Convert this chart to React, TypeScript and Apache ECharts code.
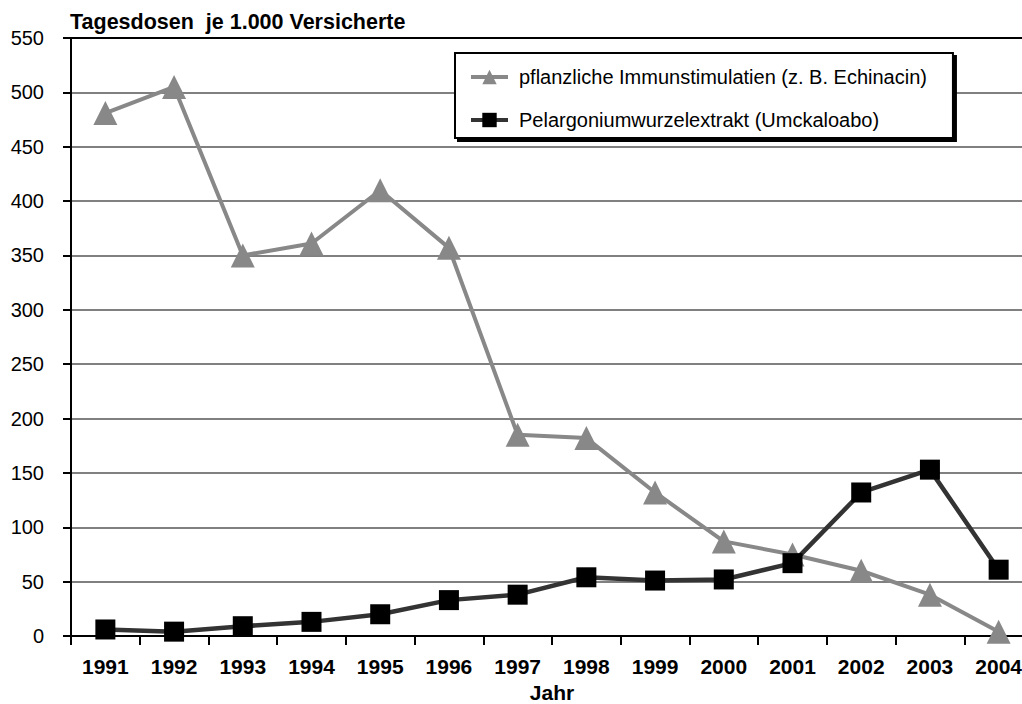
import React, { useEffect, useRef } from "react";
import * as echarts from "echarts";

const years = ["1991","1992","1993","1994","1995","1996","1997","1998","1999","2000","2001","2002","2003","2004"];
const echinacin = [481, 505, 350, 361, 410, 357, 185, 182, 132, 87, 75, 60, 38, 4];
const umckaloabo = [6, 4, 9, 13, 20, 33, 38, 54, 51, 52, 67, 132, 153, 61];
const seriesNames = ["pflanzliche Immunstimulatien (z. B. Echinacin)", "Pelargoniumwurzelextrakt (Umckaloabo)"];
const yTitle = "Tagesdosen  je 1.000 Versicherte";
const xTitle = "Jahr";

export default function App() {
  const ref = useRef<HTMLDivElement>(null);
  useEffect(() => {
    if (!ref.current) return;
    const chart = echarts.init(ref.current, null, { renderer: "svg" });
    const font = "Liberation Sans, Arial, sans-serif";
    chart.setOption({
      animation: false,
      backgroundColor: "#ffffff",
      textStyle: { fontFamily: font },
      title: {
        text: yTitle,
        left: 70,
        top: 11,
        padding: 0,
        textStyle: { fontFamily: font, fontSize: 21.5, fontWeight: "bold", color: "#000" },
      },
      legend: {
        orient: "vertical",
        left: 455,
        top: 53,
        padding: [14, 26, 8, 14],
        itemGap: 23,
        itemWidth: 37,
        itemHeight: 18,
        backgroundColor: "#ffffff",
        borderColor: "#000000",
        borderWidth: 2,
        borderRadius: 0,
        shadowColor: "#000000",
        shadowBlur: 0,
        shadowOffsetX: 3,
        shadowOffsetY: 3,
        lineStyle: { width: 4 },
        textStyle: { fontFamily: font, fontSize: 20, lineHeight: 18, color: "#000", padding: [0, 0, 0, 6] },
        data: seriesNames,
      },
      grid: { left: 71, right: 1, top: 38, bottom: 68, containLabel: false, outerBoundsMode: "none" },
      xAxis: [
        {
          type: "category",
          data: years,
          boundaryGap: true,
          name: xTitle,
          nameLocation: "middle",
          nameGap: 46,
          nameTextStyle: { fontFamily: font, fontSize: 21, fontWeight: "bold", color: "#000" },
          axisLine: { lineStyle: { color: "#000", width: 2 } },
          axisTick: { show: true, length: 9, lineStyle: { color: "#000", width: 2 } },
          axisLabel: { fontFamily: font, fontSize: 21, fontWeight: "bold", color: "#000", margin: 20 },
          splitLine: { show: false },
        },
        {
          type: "category",
          data: years,
          position: "top",
          axisLine: { show: true, lineStyle: { color: "#000", width: 2 } },
          axisTick: { show: false },
          axisLabel: { show: false },
          splitLine: { show: false },
        },
      ],
      yAxis: {
        type: "value",
        min: 0,
        max: 550,
        interval: 50,
        axisLine: { show: true, lineStyle: { color: "#000", width: 2 } },
        axisTick: { show: true, length: 8, lineStyle: { color: "#000", width: 2 } },
        axisLabel: { fontFamily: font, fontSize: 20, color: "#000", margin: 27 },
        splitLine: { show: true, lineStyle: { color: "#808080", width: 2 } },
      },
      series: [
        {
          name: seriesNames[0],
          type: "line",
          data: echinacin,
          symbol: "triangle",
          symbolSize: 24,
          lineStyle: { color: "#888888", width: 4 },
          itemStyle: { color: "#888888" },
          z: 2,
        },
        {
          name: seriesNames[1],
          type: "line",
          data: umckaloabo,
          symbol: "rect",
          symbolSize: 20,
          lineStyle: { color: "#333333", width: 4.5 },
          itemStyle: { color: "#000000" },
          z: 3,
        },
      ],
    });
    return () => chart.dispose();
  }, []);
  return <div ref={ref} style={{ position: "fixed", left: 0, top: 0, width: 1034, height: 704 }} />;
}
